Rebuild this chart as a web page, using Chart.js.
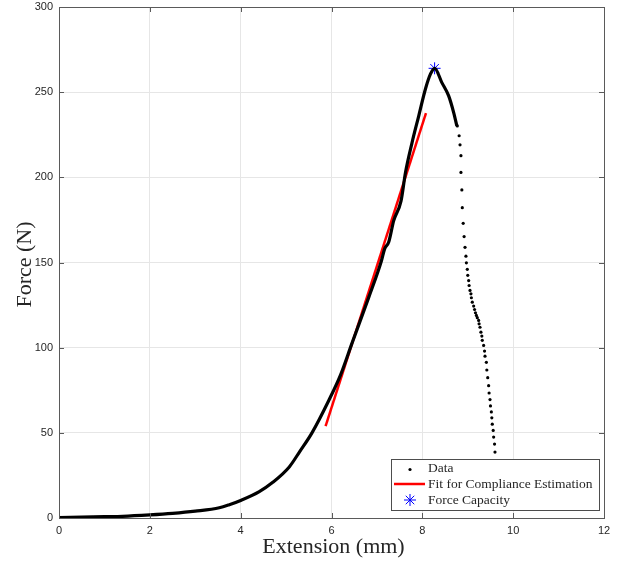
<!DOCTYPE html>
<html>
<head>
<meta charset="utf-8">
<script src="https://cdn.jsdelivr.net/npm/chart.js@4.4.1/dist/chart.umd.min.js"></script>
<style>
  html, body { margin: 0; padding: 0; background: #fff; }
  #wrap { width: 618px; height: 562px; }
</style>
</head>
<body>
<div id="wrap"><canvas id="forceChart" width="618" height="562"></canvas></div>
<script>
// loading curve (dense samples, drawn as a thick line)
const curveX = [0, 1, 1.4, 2, 2.5, 3, 3.53, 3.75, 4, 4.41, 4.7, 5.07, 5.3, 5.57, 5.94, 6.2, 6.45, 6.82, 7.1, 7.17, 7.26, 7.37, 7.53, 7.63, 7.77, 7.92, 8.07, 8.18, 8.27, 8.43, 8.58, 8.69, 8.76];
const curveF = [0.3, 0.8, 1.0, 1.8, 2.7, 4.0, 6.0, 7.8, 10.3, 15.5, 20.8, 30, 39, 50, 69, 84, 102.5, 129.5, 151, 158, 162, 174.6, 186, 203, 220, 236, 252, 260.7, 264, 255.6, 247.8, 238, 230.2];

// post-peak samples (sparse, drawn as dots)
const tailX = [8.77, 8.81, 8.83, 8.85, 8.85, 8.87, 8.88, 8.90, 8.92, 8.94, 8.96, 8.97, 8.99, 9.00, 9.02, 9.03, 9.05, 9.07, 9.08, 9.10, 9.13, 9.15, 9.17, 9.19, 9.21, 9.24, 9.25, 9.27, 9.29, 9.31, 9.32, 9.35, 9.37, 9.38, 9.41, 9.42, 9.44, 9.46, 9.47, 9.49, 9.50, 9.52, 9.53, 9.54, 9.56, 9.57, 9.59, 9.60];
const tailF = [230.2, 224.4, 219.1, 212.7, 202.9, 192.6, 182.2, 173, 165.2, 158.9, 153.7, 149.8, 146, 142.5, 139.4, 136.5, 133.6, 131.6, 129.3, 126.7, 124.4, 122.4, 120.5, 118.9, 117.6, 116, 114, 112, 109.1, 106.8, 104.3, 101.3, 98, 95, 91.4, 86.9, 82.4, 77.7, 73.4, 69.5, 65.8, 62.3, 58.8, 55.1, 51.4, 47.5, 43.4, 38.7];

// linear fit used for compliance
const fitX = [5.87, 8.08];
const fitF = [53.9, 237.7];

const peakX = [8.27];
const peakF = [264];

const xTicks = [0, 2, 4, 6, 8, 10, 12];
const yTicks = [0, 50, 100, 150, 200, 250, 300];

const toPts = (xs, ys) => xs.map((x, i) => ({ x, y: ys[i] }));

const SERIF = '"Liberation Serif", "DejaVu Serif", serif';
const SANS = '"Liberation Sans", Arial, sans-serif';

// frame, inner tick marks, axis titles and legend
const matlabAxes = {
  id: 'matlabAxes',
  afterDraw(chart) {
    const { ctx, chartArea: a, scales } = chart;
    ctx.save();
    ctx.strokeStyle = '#5a5a5a';
    ctx.lineWidth = 1;
    ctx.strokeRect(a.left + 0.5, a.top + 0.5, a.right - a.left, a.bottom - a.top);

    ctx.beginPath();
    xTicks.forEach(v => {
      const px = Math.round(scales.x.getPixelForValue(v)) + 0.5;
      ctx.moveTo(px, a.bottom); ctx.lineTo(px, a.bottom - 5);
      ctx.moveTo(px, a.top); ctx.lineTo(px, a.top + 5);
    });
    yTicks.forEach(v => {
      const py = Math.round(scales.y.getPixelForValue(v)) + 0.5;
      ctx.moveTo(a.left, py); ctx.lineTo(a.left + 5, py);
      ctx.moveTo(a.right, py); ctx.lineTo(a.right - 5, py);
    });
    ctx.stroke();

    // axis titles
    ctx.fillStyle = '#262626';
    ctx.font = '22px ' + SERIF;
    ctx.textAlign = 'center';
    ctx.textBaseline = 'middle';
    ctx.fillText('Extension (mm)', (a.left + a.right) / 2 + 2, a.bottom + 29);
    ctx.save();
    ctx.translate(25, (a.top + a.bottom) / 2 + 2);
    ctx.rotate(-Math.PI / 2);
    ctx.fillText('Force (N)', 0, 0);
    ctx.restore();

    // legend box, lower right inside the axes
    const bx = 391.5, by = 459.5, bw = 208, bh = 51;
    ctx.fillStyle = '#fff';
    ctx.fillRect(bx, by, bw, bh);
    ctx.strokeStyle = '#4d4d4d';
    ctx.strokeRect(bx, by, bw, bh);

    const rows = [
      { label: 'Data', y: by + 9 },
      { label: 'Fit for Compliance Estimation', y: by + 24.5 },
      { label: 'Force Capacity', y: by + 40.5 },
    ];
    // symbols
    ctx.fillStyle = '#000';
    ctx.beginPath();
    ctx.arc(410, rows[0].y + 1, 1.6, 0, Math.PI * 2);
    ctx.fill();
    ctx.strokeStyle = '#ff0000';
    ctx.lineWidth = 2.5;
    ctx.beginPath();
    ctx.moveTo(394, rows[1].y); ctx.lineTo(425, rows[1].y);
    ctx.stroke();
    ctx.strokeStyle = '#0000ff';
    ctx.lineWidth = 1;
    const sx = 410, sy = rows[2].y, r = 6;
    ctx.beginPath();
    for (let k = 0; k < 4; k++) {
      const t = k * Math.PI / 4;
      ctx.moveTo(sx - r * Math.cos(t), sy - r * Math.sin(t));
      ctx.lineTo(sx + r * Math.cos(t), sy + r * Math.sin(t));
    }
    ctx.stroke();

    ctx.fillStyle = '#262626';
    ctx.font = '13.5px ' + SERIF;
    ctx.textAlign = 'left';
    rows.forEach(row => ctx.fillText(row.label, 428, row.y));
    ctx.restore();
  }
};

new Chart(document.getElementById('forceChart'), {
  type: 'scatter',
  data: {
    datasets: [
      {
        label: 'Data curve',
        type: 'line',
        data: toPts(curveX, curveF),
        borderColor: '#000',
        borderWidth: 3.2,
        pointRadius: 0,
        cubicInterpolationMode: 'monotone',
        fill: false,
      },
      {
        label: 'Data',
        data: toPts(tailX, tailF),
        backgroundColor: '#000',
        borderColor: '#000',
        pointRadius: 1.6,
        borderWidth: 0,
      },
      {
        label: 'Fit for Compliance Estimation',
        type: 'line',
        data: toPts(fitX, fitF),
        borderColor: '#ff0000',
        borderWidth: 2.5,
        pointRadius: 0,
        fill: false,
      },
      {
        label: 'Force Capacity',
        data: toPts(peakX, peakF),
        pointStyle: 'star',
        pointRadius: 6,
        borderColor: '#0000ff',
        backgroundColor: '#0000ff',
        borderWidth: 1,
      },
    ],
  },
  options: {
    responsive: false,
    animation: false,
    layout: { padding: { left: 0, right: 14, top: 6, bottom: 0 } },
    plugins: { legend: { display: false }, tooltip: { enabled: false } },
    scales: {
      x: {
        type: 'linear', min: 0, max: 12,
        afterFit: s => { s.height = 44; s.paddingLeft = 0; s.paddingRight = 0; },
        afterBuildTicks: s => { s.ticks = xTicks.map(v => ({ value: v })); },
        grid: { color: '#e6e6e6', drawTicks: false },
        border: { display: false },
        ticks: { color: '#262626', font: { family: SANS, size: 11 }, padding: 6, maxRotation: 0 },
      },
      y: {
        type: 'linear', min: 0, max: 300,
        afterFit: s => { s.width = 59; s.paddingTop = 0; s.paddingBottom = 0; },
        afterBuildTicks: s => { s.ticks = yTicks.map(v => ({ value: v })); },
        grid: { color: '#e6e6e6', drawTicks: false },
        border: { display: false },
        ticks: { color: '#262626', font: { family: SANS, size: 11 }, padding: 6 },
      },
    },
  },
  plugins: [matlabAxes],
});
</script>
</body>
</html>
